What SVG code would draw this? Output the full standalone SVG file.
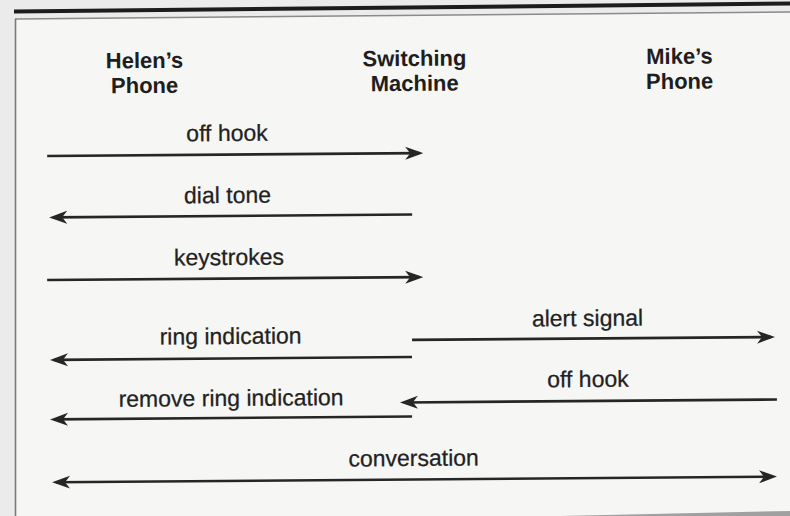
<svg xmlns="http://www.w3.org/2000/svg" width="790" height="516" viewBox="0 0 790 516">
  <defs>
    <marker id="arrow" viewBox="0 0 18 14" refX="14" refY="7" markerWidth="18" markerHeight="14" markerUnits="userSpaceOnUse" orient="auto-start-reverse">
      <path d="M18,7 L0,0.5 L5,7 L0,13.5 Z" fill="#262626"/>
    </marker>
  </defs>
  <style>
    .hdr { font-family: "Liberation Sans", Arial, sans-serif; font-weight: bold; font-size: 22px; fill: #1e1e1e; text-anchor: middle; }
    .lbl { font-family: "Liberation Sans", Arial, sans-serif; font-size: 23px; fill: #222; text-anchor: middle; stroke: #222; stroke-width: 0.25; }
    .msg { stroke: #262626; stroke-width: 2.6; fill: none; marker-end: url(#arrow); }
    .both { marker-start: url(#arrow); }
  </style>

  <!-- page background -->
  <rect x="0" y="0" width="790" height="516" fill="#ebebeb"/>
  <polygon points="15,19 790,12 790,516 15,516" fill="#f6f6f4"/>
  <!-- page frame -->
  <line x1="14" y1="11.5" x2="790" y2="3.5" stroke="#1c1c1c" stroke-width="4"/>
  <line x1="15" y1="19" x2="790" y2="12" stroke="#8a8a8a" stroke-width="1.5"/>
  <line x1="15.5" y1="19" x2="15.5" y2="516" stroke="#7a7a7a" stroke-width="1.6"/>
  <polygon points="560,516 790,511 790,516" fill="#a0a0a0"/>

  <g transform="rotate(-0.45 395 258)">
    <g id="helens-phone">
      <text class="hdr" x="146" y="66">Helen’s</text>
      <text class="hdr" x="146" y="91">Phone</text>
    </g>
    <g id="switching-machine">
      <text class="hdr" x="416" y="66">Switching</text>
      <text class="hdr" x="416" y="91">Machine</text>
    </g>
    <g id="mikes-phone">
      <text class="hdr" x="681" y="66">Mike’s</text>
      <text class="hdr" x="681" y="91">Phone</text>
    </g>

    <g id="connectors">
      <line class="msg" x1="48" y1="153.3" x2="420" y2="153.3"/>
      <text class="lbl" x="228" y="139.7">off hook</text>

      <line class="msg" x1="412.5" y1="214.7" x2="53.5" y2="214.7"/>
      <text class="lbl" x="228" y="201.7">dial tone</text>

      <line class="msg" x1="47" y1="277.3" x2="419" y2="277.3"/>
      <text class="lbl" x="229" y="263.7">keystrokes</text>

      <line class="msg" x1="411.4" y1="340" x2="770.4" y2="340"/>
      <text class="lbl" x="587" y="327.5">alert signal</text>

      <line class="msg" x1="411.2" y1="357.2" x2="53.2" y2="357.2"/>
      <text class="lbl" x="230" y="342.7">ring indication</text>

      <line class="msg" x1="775.8" y1="402.5" x2="402.8" y2="402.5"/>
      <text class="lbl" x="587" y="388.5">off hook</text>

      <line class="msg" x1="410.8" y1="416.7" x2="52.8" y2="416.7"/>
      <text class="lbl" x="230" y="404.7">remove ring indication</text>

      <line class="msg both" x1="54.3" y1="479.6" x2="771.3" y2="479.6"/>
      <text class="lbl" x="412" y="466.1">conversation</text>
    </g>
  </g>
</svg>
